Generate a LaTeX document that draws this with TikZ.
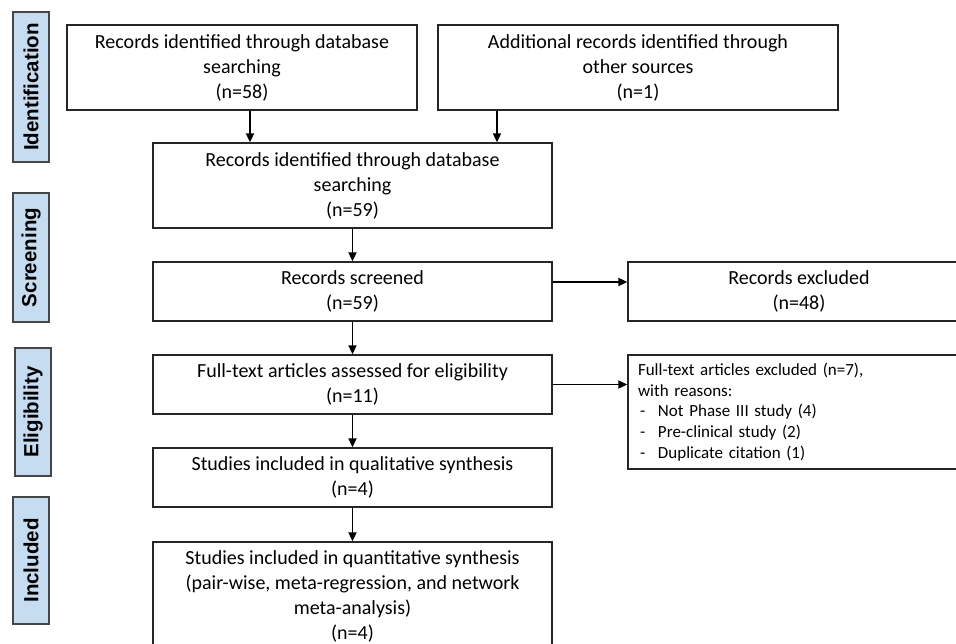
\documentclass[tikz,border=0pt]{standalone}
\usepackage{fontspec}
\setmainfont{Carlito}
\newfontfamily\labfont{Liberation Sans}
\usetikzlibrary{arrows.meta}
\definecolor{sidefill}{RGB}{198,220,241}
\definecolor{sidedraw}{RGB}{70,70,70}
\begin{document}
\begin{tikzpicture}[x=1pt,y=-1pt,
  box/.style={draw=black!85, line width=1.3pt, fill=white, align=center, inner sep=0pt,
    font=\fontsize{20}{25}\selectfont},
  side/.style={draw=sidedraw, line width=1.2pt, fill=sidefill, rotate=90, inner sep=0pt,
    minimum height=36pt, font=\labfont\bfseries\fontsize{20.5}{24}\selectfont},
  arr/.style={line width=1.8pt, -{Triangle[length=9pt,width=8pt]}}]
\useasboundingbox (0,0) rectangle (956,644);
\clip (0,0) rectangle (956,644);
\fill[white] (0,0) rectangle (956,644);

% side labels
\node[side, minimum width=150pt] (sId) at (31,87) {Identification};
\node[side, minimum width=129pt] (sSc) at (31,257.5) {Screening};
\node[side, minimum width=128pt] (sEl) at (33,412) {Eligibility};
\node[side, minimum width=127pt] (sIn) at (31,560.5) {Included};

% main boxes
\node[box, minimum width=350pt, minimum height=85pt] (b1) at (242,67.5)
  {\rule{0pt}{4pt}Records identified through database\\searching\\(n=58)};
\node[box, minimum width=400pt, minimum height=85pt] (b2) at (638,67.5)
  {\rule{0pt}{4pt}Additional records identified through\\other sources\\(n=1)};
\node[box, minimum width=399pt, minimum height=85pt] (b3) at (352.5,185.5)
  {\rule{0pt}{4pt}Records identified through database\\searching\\(n=59)};
\node[box, minimum width=399pt, minimum height=59pt] (b4) at (352.5,291.5)
  {Records screened\\(n=59)};
\node[box, minimum width=342pt, minimum height=59pt] (ex1) at (799,291.5)
  {Records excluded\\(n=48)};
\node[box, minimum width=399pt, minimum height=59pt] (b5) at (352.5,384.5)
  {Full-text articles assessed for eligibility\\(n=11)};
\node[box, minimum width=342pt, minimum height=114pt, text width=322pt, inner xsep=10pt,
  align=left, font=\fontsize{17}{20.8}\selectfont] (ex2) at (799,412)
  {Full-text articles excluded (n=7),\\
   with reasons:\\
   \hspace*{2pt}\makebox[18pt][l]{-}Not Phase III study (4)\\
   \hspace*{2pt}\makebox[18pt][l]{-}Pre-clinical study (2)\\
   \hspace*{2pt}\makebox[18pt][l]{-}Duplicate citation (1)};
\node[box, minimum width=399pt, minimum height=59pt] (b6) at (352.5,477.5)
  {Studies included in qualitative synthesis\\(n=4)};
\node[box, minimum width=399pt, minimum height=109pt] (b7) at (352.5,596.5)
  {Studies included in quantitative synthesis\\(pair-wise, meta-regression, and network\\meta-analysis)\\(n=4)};

% connectors
\coordinate (xa) at (250,0);
\coordinate (xb) at (497,0);
\coordinate (ya) at (0,282);
\draw[arr] (b1.south -| xa) -- (b3.north -| xa);
\draw[arr] (b2.south -| xb) -- (b3.north -| xb);
\draw[arr] (b3.south) -- (b4.north);
\draw[arr] (b4.east |- ya) -- (ex1.west |- ya);
\draw[arr] (b4.south) -- (b5.north);
\draw[arr] (b5.east) -- (ex2.west |- b5.east);
\draw[arr] (b5.south) -- (b6.north);
\draw[arr] (b6.south) -- (b7.north);
\end{tikzpicture}
\end{document}
